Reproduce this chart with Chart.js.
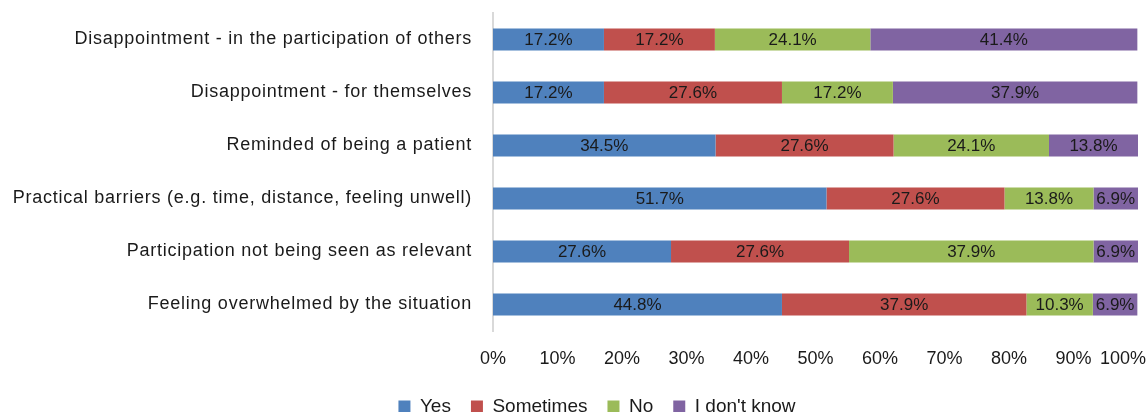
<!DOCTYPE html>
<html>
<head>
<meta charset="utf-8">
<script src="https://cdn.jsdelivr.net/npm/chart.js@4.4.1/dist/chart.umd.min.js"></script>
<style>
  html, body { margin: 0; padding: 0; background: #fff; }
  #wrap { width: 1148px; height: 412px; position: relative; }
</style>
</head>
<body>
<div id="wrap"><canvas id="barrier-chart"></canvas></div>
<script>
// categories, top to bottom
const categories = [
  'Disappointment - in the participation of others',
  'Disappointment - for themselves',
  'Reminded of being a patient',
  'Practical barriers (e.g. time, distance, feeling unwell)',
  'Participation not being seen as relevant',
  'Feeling overwhelmed by the situation'
];

// series values (%)
const yesValues       = [17.2, 17.2, 34.5, 51.7, 27.6, 44.8];
const sometimesValues = [17.2, 27.6, 27.6, 27.6, 27.6, 37.9];
const noValues        = [24.1, 17.2, 24.1, 13.8, 37.9, 10.3];
const dontKnowValues  = [41.4, 37.9, 13.8, 6.9, 6.9, 6.9];

const xTicks = [0, 10, 20, 30, 40, 50, 60, 70, 80, 90, 100];

const FONT = '"Liberation Sans", Arial, sans-serif';
const TEXT = '#1a1a1a';

// value labels in the middle of each bar segment
const segmentLabels = {
  id: 'segmentLabels',
  afterDatasetsDraw(chart) {
    const ctx = chart.ctx;
    ctx.save();
    ctx.font = '17px ' + FONT;
    ctx.fillStyle = TEXT;
    ctx.textAlign = 'center';
    ctx.textBaseline = 'middle';
    chart.data.datasets.forEach((ds, i) => {
      chart.getDatasetMeta(i).data.forEach((bar, j) => {
        const x = (bar.x + bar.base) / 2;
        ctx.fillText(ds.data[j].toFixed(1) + '%', x, bar.y + 1);
      });
    });
    ctx.restore();
  }
};

// small layout tweaks: spaced category labels, legend nudged right,
// last x label pulled inside the canvas (like the original)
const tweaks = {
  id: 'tweaks',
  afterLayout(chart) {
    const lg = chart.legend;
    if (lg) { lg.left += 28; lg.right += 28; }
  },
  beforeDraw(chart) {
    const y = chart.scales.y;
    if (y && !y._spaced) {
      const orig = y.drawLabels.bind(y);
      y.drawLabels = function (area) {
        chart.ctx.save();
        chart.ctx.letterSpacing = '0.75px';
        orig(area);
        chart.ctx.restore();
      };
      y._spaced = true;
    }
    const x = chart.scales.x;
    const items = x.getLabelItems();
    const last = items[items.length - 1];
    if (last) {
      chart.ctx.save();
      chart.ctx.font = last.font.string;
      const w = chart.ctx.measureText(last.label).width;
      chart.ctx.restore();
      last.options.translation[0] = Math.min(last.options.translation[0], chart.width - 2 - w / 2);
    }
  }
};

new Chart(document.getElementById('barrier-chart'), {
  type: 'bar',
  data: {
    labels: categories,
    datasets: [
      { label: 'Yes', data: yesValues, backgroundColor: '#4F81BD' },
      { label: 'Sometimes', data: sometimesValues, backgroundColor: '#C0504D' },
      { label: 'No', data: noValues, backgroundColor: '#9BBB59' },
      { label: "I don't know", data: dontKnowValues, backgroundColor: '#8064A2' }
    ]
  },
  options: {
    indexAxis: 'y',
    responsive: true,
    maintainAspectRatio: false,
    animation: false,
    barPercentage: 0.83,
    categoryPercentage: 0.5,
    layout: { padding: { top: 13, right: 10, left: 0, bottom: -14 } },
    plugins: {
      legend: {
        position: 'bottom',
        labels: {
          font: { size: 19, family: FONT },
          color: TEXT,
          boxWidth: 12,
          boxHeight: 12,
          padding: 20
        }
      },
      tooltip: { enabled: false }
    },
    scales: {
      x: {
        stacked: true,
        min: 0,
        max: 100,
        grid: { display: false, drawTicks: false },
        border: { display: false },
        afterBuildTicks(scale) {
          scale.ticks = xTicks.map(v => ({ value: v }));
        },
        afterFit(scale) {
          scale.height = 46;
          scale.paddingLeft = 0;
          scale.paddingRight = 0;
        },
        ticks: {
          padding: 17,
          autoSkip: false,
          maxRotation: 0,
          font: { size: 18, family: FONT },
          color: TEXT,
          callback: v => v + '%'
        }
      },
      y: {
        stacked: true,
        grid: { display: false, drawTicks: false },
        border: { display: true, color: '#d9d9d9', width: 2 },
        afterFit(scale) {
          scale.width = 493;
          scale.paddingTop = 0;
          scale.paddingBottom = 0;
        },
        ticks: {
          padding: 21,
          font: { size: 18, family: FONT },
          color: TEXT
        }
      }
    }
  },
  plugins: [segmentLabels, tweaks]
});
</script>
</body>
</html>
